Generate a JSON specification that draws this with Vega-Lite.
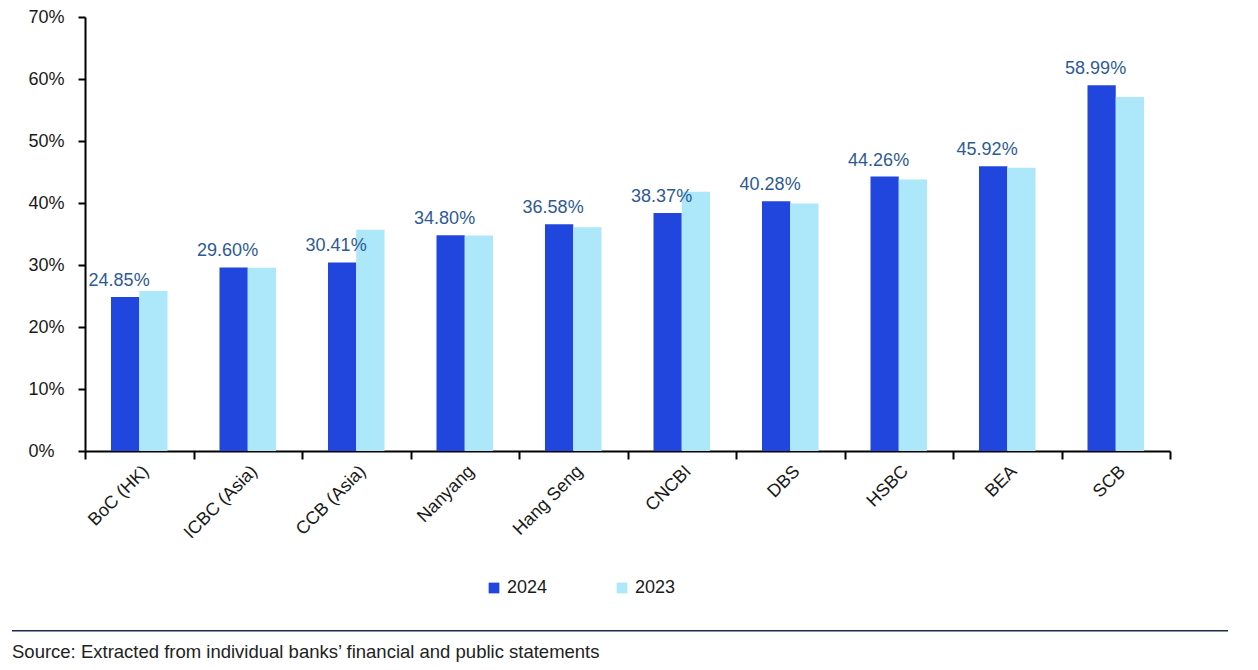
{
  "$schema": "https://vega.github.io/schema/vega-lite/v6.json",
  "autosize": {"type": "none"},
  "width": 1216,
  "height": 434,
  "padding": {"left": 12, "top": 17, "right": 30, "bottom": 219},
  "background": "white",
  "config": {
    "view": {"stroke": null},
    "font": "Liberation Sans",
    "axis": {"grid": false, "labelFont": "Liberation Sans", "labelColor": "#1a1a1a", "domainColor": "#000000", "tickColor": "#000000", "domainWidth": 2, "tickWidth": 2}
  },
  "title": {
    "text": "Source: Extracted from individual banks\u2019 financial and public statements",
    "orient": "bottom",
    "anchor": "start",
    "frame": "group",
    "offset": 11,
    "fontSize": 18.5,
    "fontWeight": "normal",
    "color": "#222222",
    "font": "Liberation Sans"
  },
  "data": {
    "values": [
      {"bank": "BoC (HK)", "year": "2024", "value": 0.2485},
      {"bank": "BoC (HK)", "year": "2023", "value": 0.258},
      {"bank": "ICBC (Asia)", "year": "2024", "value": 0.2960},
      {"bank": "ICBC (Asia)", "year": "2023", "value": 0.2955},
      {"bank": "CCB (Asia)", "year": "2024", "value": 0.3041},
      {"bank": "CCB (Asia)", "year": "2023", "value": 0.357},
      {"bank": "Nanyang", "year": "2024", "value": 0.3480},
      {"bank": "Nanyang", "year": "2023", "value": 0.3475},
      {"bank": "Hang Seng", "year": "2024", "value": 0.3658},
      {"bank": "Hang Seng", "year": "2023", "value": 0.361},
      {"bank": "CNCBI", "year": "2024", "value": 0.3837},
      {"bank": "CNCBI", "year": "2023", "value": 0.418},
      {"bank": "DBS", "year": "2024", "value": 0.4028},
      {"bank": "DBS", "year": "2023", "value": 0.399},
      {"bank": "HSBC", "year": "2024", "value": 0.4426},
      {"bank": "HSBC", "year": "2023", "value": 0.438},
      {"bank": "BEA", "year": "2024", "value": 0.4592},
      {"bank": "BEA", "year": "2023", "value": 0.457},
      {"bank": "SCB", "year": "2024", "value": 0.5899},
      {"bank": "SCB", "year": "2023", "value": 0.571}
    ]
  },
  "encoding": {
    "x": {
      "field": "bank",
      "type": "nominal",
      "sort": null,
      "scale": {"range": [73, 1158], "paddingInner": 0, "paddingOuter": 0},
      "axis": {"title": null, "labelAngle": -45, "labelFontSize": 18, "tickBand": "extent", "tickSize": 8, "labelPadding": 3}
    },
    "y": {
      "field": "value",
      "type": "quantitative",
      "scale": {"domain": [0, 0.7], "nice": false},
      "axis": {"title": null, "format": ".0%", "values": [0, 0.1, 0.2, 0.3, 0.4, 0.5, 0.6, 0.7], "offset": -73, "tickSize": 7, "labelPadding": 50, "labelAlign": "left", "labelFontSize": 18}
    },
    "xOffset": {
      "field": "year",
      "type": "nominal",
      "scale": {"domain": ["2024", "2023"], "paddingInner": 0, "paddingOuter": 0.92}
    }
  },
  "layer": [
    {
      "mark": {"type": "bar"},
      "encoding": {
        "color": {
          "field": "year",
          "type": "nominal",
          "scale": {"domain": ["2024", "2023"], "range": ["#2146DD", "#ADE7FA"]},
          "legend": {
            "title": null,
            "orient": "none",
            "legendX": 473,
            "legendY": 562,
            "direction": "horizontal",
            "symbolType": "square",
            "symbolSize": 115,
            "symbolStrokeWidth": 0,
            "labelFontSize": 18,
            "labelColor": "#1a1a1a",
            "labelOffset": 4,
            "columnPadding": 65,
            "padding": 0
          }
        }
      }
    },
    {
      "transform": [{"filter": "datum.year === '2024'"}],
      "mark": {"type": "text", "baseline": "alphabetic", "align": "center", "dx": -6, "dy": -11, "fontSize": 18, "color": "#2E5A94"},
      "encoding": {
        "text": {"field": "value", "type": "quantitative", "format": ".2%"}
      }
    },
    {
      "data": {"values": [{"line": -0.29}]},
      "mark": {"type": "rule", "color": "#1B2A4A", "strokeWidth": 1.5},
      "encoding": {
        "x": null,
        "xOffset": null,
        "y": {"field": "line", "type": "quantitative"}
      }
    }
  ]
}
